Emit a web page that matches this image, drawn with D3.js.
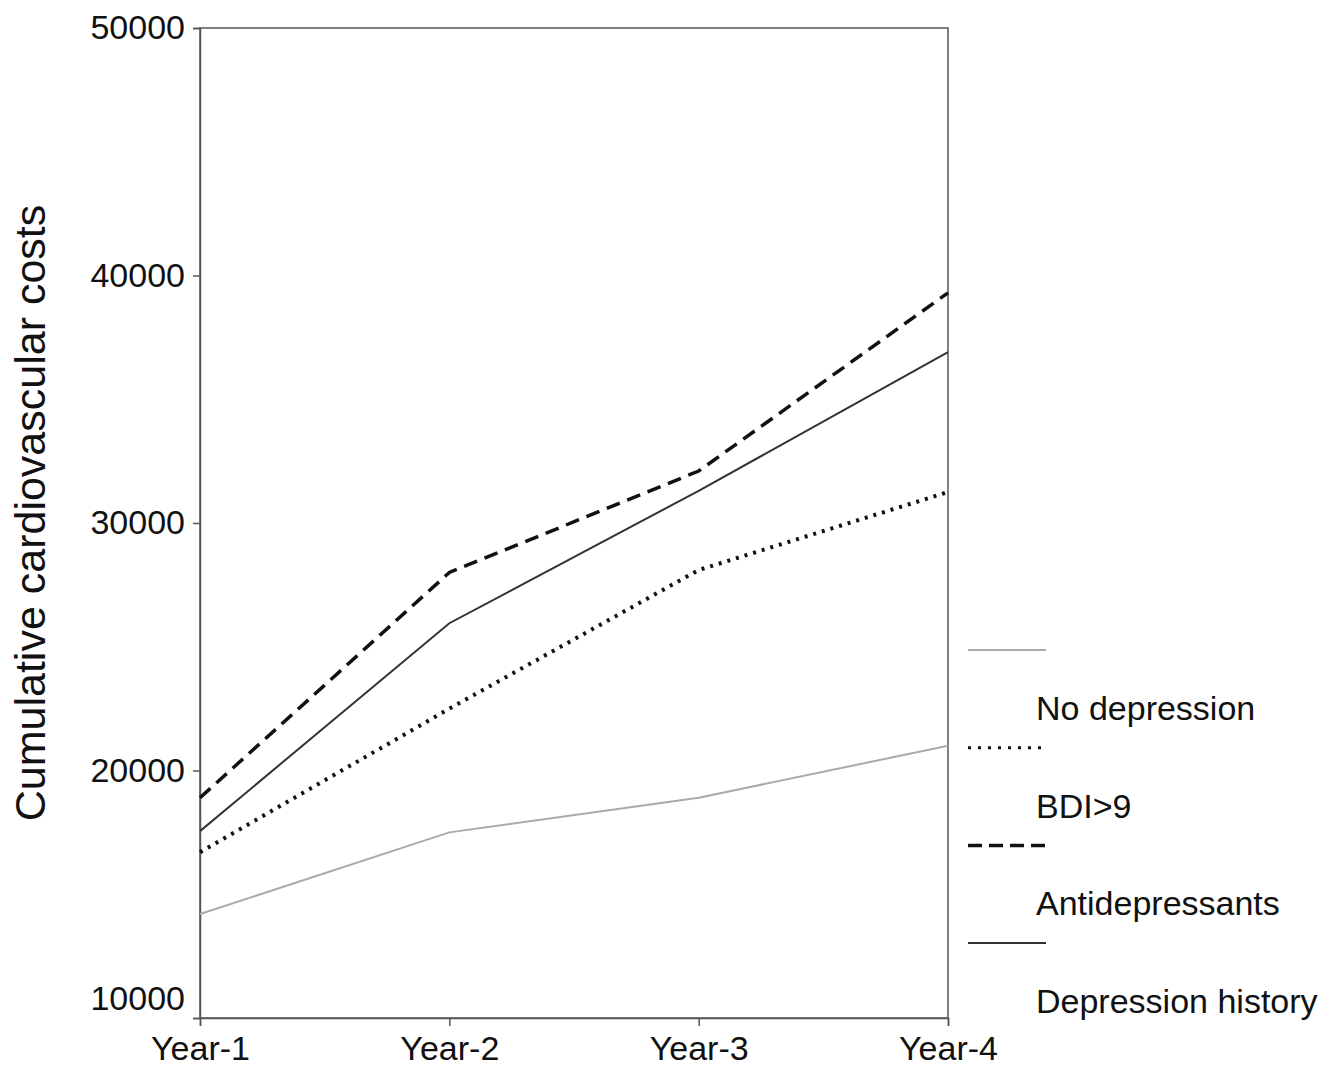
<!DOCTYPE html>
<html>
<head>
<meta charset="utf-8">
<script src="https://cdn.jsdelivr.net/npm/d3@7"></script>
<style>
  body { margin: 0; background: #fff; }
  text { font-family: "Liberation Sans", Arial, sans-serif; fill: #111; }
</style>
</head>
<body>
<script>
// chart data
var years = ["Year-1", "Year-2", "Year-3", "Year-4"];
var noDepression = [14200, 17500, 18900, 21000];
var bdi9 = [16700, 22500, 28100, 31250];
var antidepressants = [18900, 28000, 32100, 39300];
var depressionHistory = [17550, 25950, 31300, 36900];
var yTicks = [10000, 20000, 30000, 40000, 50000];
var seriesNames = ["No depression", "BDI>9", "Antidepressants", "Depression history"];

var margin = { top: 28, left: 200, right: 394, bottom: 50 };
var width = 1342, height = 1068;
var plotW = 948 - 200, plotH = 1018 - 28;

var svg = d3.select("body").append("svg")
  .attr("width", width)
  .attr("height", height);

var g = svg.append("g")
  .attr("transform", "translate(" + margin.left + "," + margin.top + ")");

var x = d3.scalePoint().domain(years).range([0, plotW]).padding(0);
var y = d3.scaleLinear().domain([10000, 50000]).range([plotH, 0]);

// frame
g.append("rect")
  .attr("width", plotW).attr("height", plotH)
  .attr("fill", "none").attr("stroke", "#555").attr("stroke-width", 1.5);

// y axis
var yAxis = g.append("g")
  .call(d3.axisLeft(y).tickValues(yTicks).tickSize(7).tickPadding(8).tickFormat(d3.format("d")));
yAxis.select(".domain").attr("stroke", "#555").attr("stroke-width", 1.5);
yAxis.selectAll(".tick line").attr("stroke", "#555").attr("stroke-width", 1.5);
yAxis.selectAll(".tick text")
  .style("font-size", "34px")
  .attr("dy", function (d) { return d === 10000 ? "-0.25em" : "0.32em"; });

// x axis
var xAxis = g.append("g")
  .attr("transform", "translate(0," + plotH + ")")
  .call(d3.axisBottom(x).tickSize(8).tickPadding(10));
xAxis.select(".domain").attr("stroke", "#555").attr("stroke-width", 1.5);
xAxis.selectAll(".tick line").attr("stroke", "#555").attr("stroke-width", 1.5);
xAxis.selectAll(".tick text").style("font-size", "34px");

// y title
svg.append("text")
  .attr("transform", "translate(45,513) rotate(-90)")
  .attr("text-anchor", "middle")
  .style("font-size", "43px")
  .text("Cumulative cardiovascular costs");

var series = [
  { name: seriesNames[0], values: noDepression, color: "#aaa", width: 2, dash: null },
  { name: seriesNames[1], values: bdi9, color: "#111", width: 4, dash: "3,6" },
  { name: seriesNames[2], values: antidepressants, color: "#111", width: 3.5, dash: "14,8" },
  { name: seriesNames[3], values: depressionHistory, color: "#333", width: 2, dash: null }
];

var line = d3.line()
  .x(function (d, i) { return x(years[i]); })
  .y(function (d) { return y(d); });

g.selectAll(".series")
  .data(series)
  .enter().append("path")
  .attr("class", "series")
  .attr("d", function (s) { return line(s.values); })
  .attr("fill", "none")
  .attr("stroke", function (s) { return s.color; })
  .attr("stroke-width", function (s) { return s.width; })
  .attr("stroke-dasharray", function (s) { return s.dash; });

// legend
var legend = svg.append("g").attr("transform", "translate(968,650)");
var item = legend.selectAll(".item")
  .data(series)
  .enter().append("g")
  .attr("transform", function (d, i) { return "translate(0," + (i * 97.7) + ")"; });
item.append("line")
  .attr("x1", 0).attr("x2", 78).attr("y1", 0).attr("y2", 0)
  .attr("stroke", function (s) { return s.color; })
  .attr("stroke-width", function (s) { return s.width === 4 ? 3 : s.width; })
  .attr("stroke-dasharray", function (s) { return s.dash ? (s.dash === "3,6" ? "3,7" : "14,7") : null; });
item.append("text")
  .attr("x", 68).attr("y", 70)
  .style("font-size", "34px")
  .text(function (s) { return s.name; });
</script>
</body>
</html>
